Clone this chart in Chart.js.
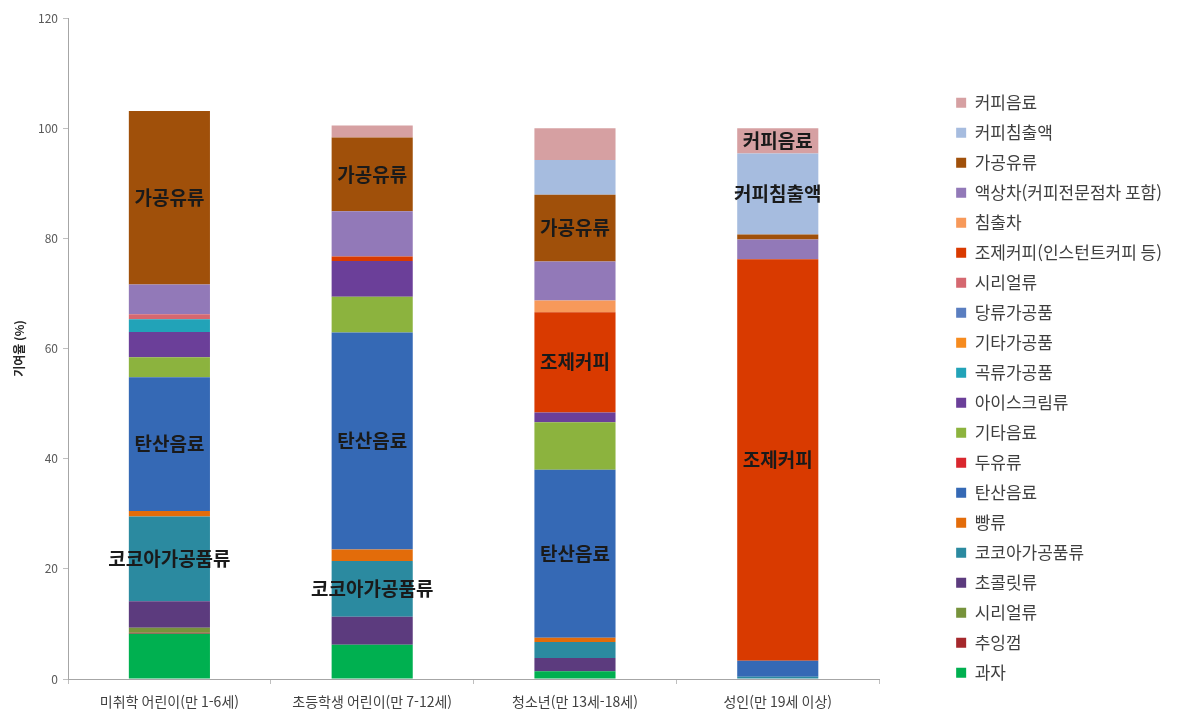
<!DOCTYPE html>
<html lang="ko">
<head>
<meta charset="utf-8">
<title>기여율</title>
<script src="https://cdn.jsdelivr.net/npm/chart.js@4.4.1/dist/chart.umd.min.js"></script>
<style>
  html, body { margin: 0; padding: 0; background: #fff; }
  #wrap { width: 1200px; height: 712px; position: relative; }
</style>
</head>
<body>
<div id="wrap"><canvas id="chart"></canvas></div>
<script>
// Excel-like styling
Chart.defaults.font.family = "'Noto Sans CJK KR', 'Noto Sans', sans-serif";
Chart.defaults.color = '#404040';
Chart.defaults.animation = false;

const categories = ['미취학 어린이(만 1-6세)', '초등학생 어린이(만 7-12세)', '청소년(만 13세-18세)', '성인(만 19세 이상)'];

// series from bottom of the stack to top
const seriesNames = [
    '과자', '추잉껌', '시리얼류', '초콜릿류', '코코아가공품류', '빵류', '탄산음료', '두유류',
    '기타음료', '아이스크림류', '곡류가공품', '기타가공품', '당류가공품', '시리얼류',
    '조제커피(인스턴트커피 등)', '침출차', '액상차(커피전문점차 포함)', '가공유류', '커피침출액', '커피음료'
];

const snack      = [8.2, 6.2, 1.4, 0];
const gum        = [0.2, 0, 0, 0];
const cerealG    = [0.9, 0, 0, 0];
const chocolate  = [4.8, 5.1, 2.4, 0];
const cocoa      = [15.4, 10.1, 2.9, 0.4];
const bread      = [1.0, 2.1, 0.8, 0];
const soda       = [24.3, 39.4, 30.5, 2.9];
const soyMilk    = [0, 0, 0, 0];
const otherDrink = [3.6, 6.5, 8.6, 0];
const iceCream   = [4.6, 6.5, 1.8, 0];
const grain      = [2.3, 0, 0, 0];
const otherProc  = [0, 0, 0, 0];
const sugar      = [0, 0, 0, 0];
const cerealP    = [0.9, 0, 0, 0];
const mixCoffee  = [0, 0.8, 18.2, 72.9];
const leafTea    = [0, 0, 2.1, 0];
const liquidTea  = [5.4, 8.2, 7.1, 3.6];
const milkDrink  = [31.5, 13.4, 12.1, 0.9];
const coffeeExt  = [0, 0, 6.3, 14.7];
const coffeeDrk  = [0, 2.2, 5.8, 4.6];

const seriesValues = [snack, gum, cerealG, chocolate, cocoa, bread, soda, soyMilk, otherDrink, iceCream,
    grain, otherProc, sugar, cerealP, mixCoffee, leafTea, liquidTea, milkDrink, coffeeExt, coffeeDrk];

const seriesColors = [
    '#00B050', '#A5282C', '#77933C', '#5C3B7E', '#2B8AA0', '#E36C0A', '#3569B5', '#D9272E',
    '#8CB33E', '#6B3F99', '#22A3B8', '#F68B1F', '#5A7EC0', '#D56870',
    '#D93A00', '#F7995A', '#9279B8', '#A0500A', '#A6BCDF', '#D6A0A2'
];

// text written inside some segments: [category index, series name, text]
const segmentLabels = [
    [0, '가공유류', '가공유류'], [0, '탄산음료', '탄산음료'], [0, '코코아가공품류', '코코아가공품류'],
    [1, '가공유류', '가공유류'], [1, '탄산음료', '탄산음료'], [1, '코코아가공품류', '코코아가공품류'],
    [2, '가공유류', '가공유류'], [2, '조제커피(인스턴트커피 등)', '조제커피'], [2, '탄산음료', '탄산음료'],
    [3, '커피음료', '커피음료'], [3, '커피침출액', '커피침출액'], [3, '조제커피(인스턴트커피 등)', '조제커피']
];

const segmentLabelPlugin = {
    id: 'segmentLabels',
    afterDatasetsDraw(chart) {
        const ctx = chart.ctx;
        ctx.save();
        ctx.font = "bold 19px 'Noto Sans CJK KR', sans-serif";
        ctx.fillStyle = '#1a1a1a';
        ctx.textAlign = 'center';
        ctx.textBaseline = 'middle';
        segmentLabels.forEach(([cat, name, text]) => {
            const dsIndex = chart.data.datasets.findIndex(d => d.label === name);
            if (dsIndex < 0) return;
            const el = chart.getDatasetMeta(dsIndex).data[cat];
            if (!el) return;
            ctx.fillText(text, el.x, (el.y + el.base) / 2);
        });
        ctx.restore();
    }
};

const datasets = seriesNames.map((name, i) => ({
    label: name,
    data: seriesValues[i],
    backgroundColor: seriesColors[i],
    borderWidth: 0,
    categoryPercentage: 0.8,
    barPercentage: 0.5
}));

new Chart(document.getElementById('chart'), {
    type: 'bar',
    data: { labels: categories, datasets: datasets },
    options: {
        responsive: true,
        maintainAspectRatio: false,
        layout: { padding: { top: 18, left: 0, right: 28, bottom: 0 } },
        scales: {
            x: {
                stacked: true,
                grid: { offset: true, drawOnChartArea: false, drawTicks: true, tickLength: 5, color: '#bfbfbf' },
                border: { color: '#a6a6a6' },
                ticks: { font: { size: 14 }, color: '#404040', padding: 9 },
                afterFit(scale) { scale.height = 33; }
            },
            y: {
                stacked: true,
                min: 0,
                max: 120,
                ticks: { stepSize: 20, font: { size: 12 }, color: '#595959', padding: 5 },
                grid: { drawOnChartArea: false, drawTicks: true, tickLength: 5, color: '#bfbfbf' },
                border: { color: '#a6a6a6' },
                title: { display: true, text: '기여율 (%)', font: { size: 12, weight: 'bold' }, color: '#262626', padding: { top: 12, bottom: 0 } },
                afterFit(scale) { scale.width = 68; }
            },
            // hidden spacer between the plot and the legend
            spacer: {
                type: 'linear',
                position: 'right',
                display: false,
                afterFit(scale) { scale.width = 64; }
            }
        },
        plugins: {
            legend: {
                position: 'right',
                align: 'start',
                reverse: true,
                title: { display: true, text: ' ', font: { size: 16 }, padding: { top: 0, bottom: 44 } },
                labels: {
                    boxWidth: 10,
                    boxHeight: 10,
                    padding: 13,
                    font: { size: 17 },
                    color: '#404040'
                }
            },
            tooltip: { enabled: false }
        }
    },
    plugins: [segmentLabelPlugin]
});
</script>
</body>
</html>
